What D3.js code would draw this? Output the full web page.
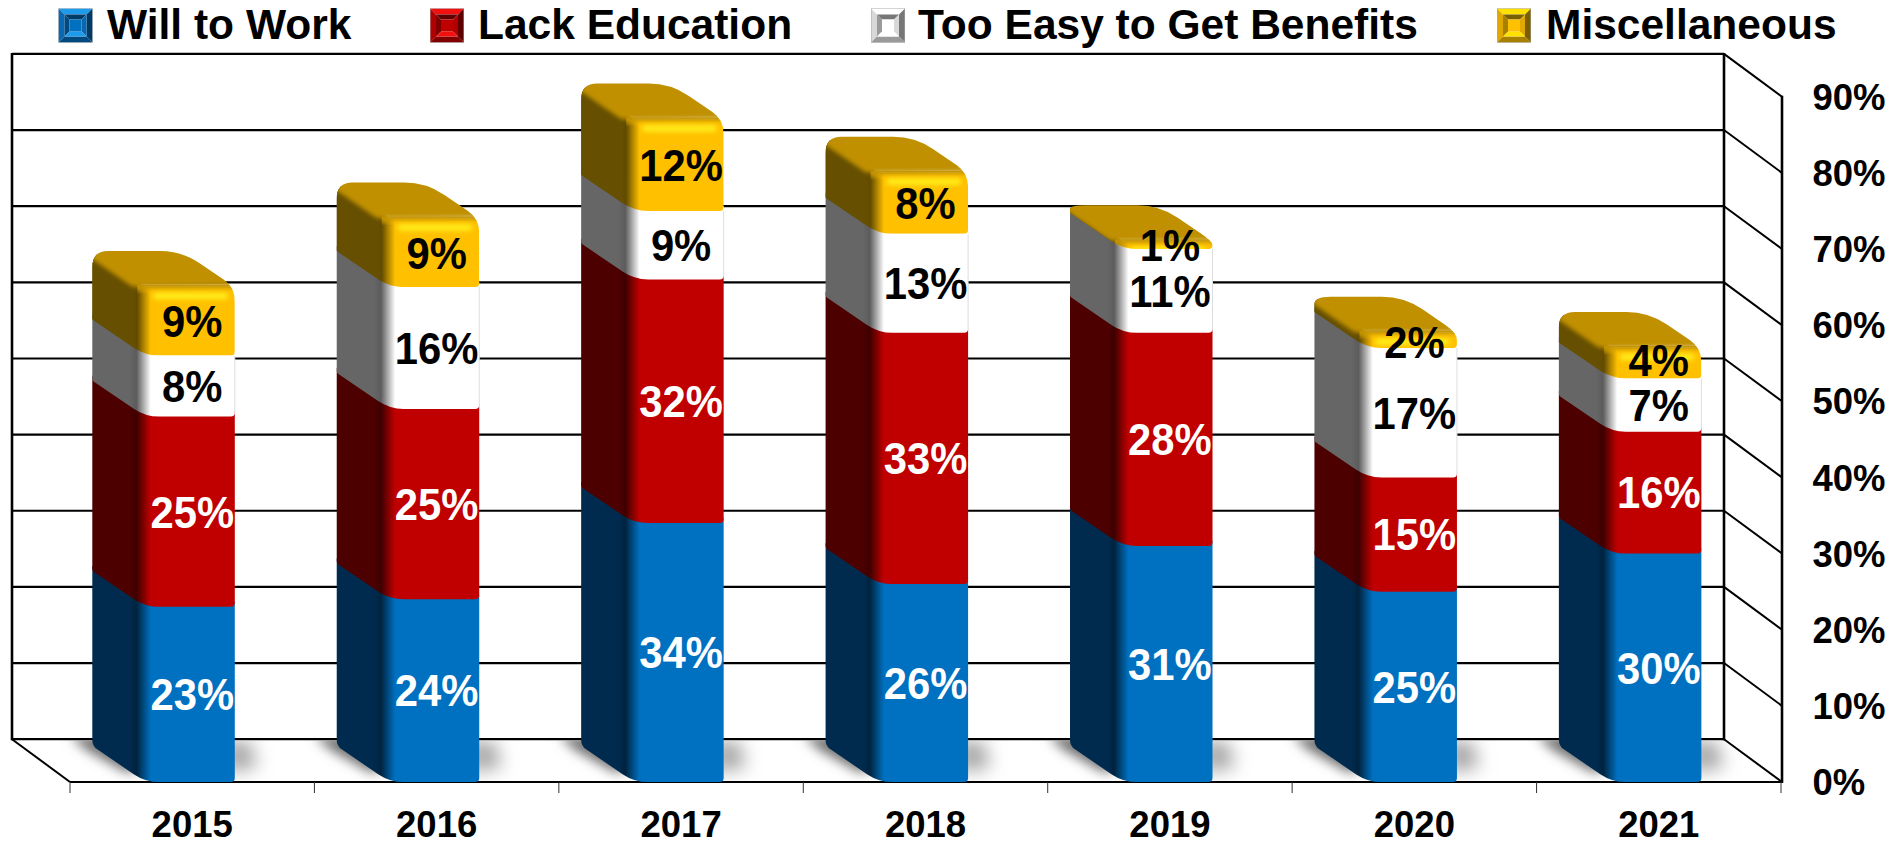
<!DOCTYPE html>
<html>
<head>
<meta charset="utf-8">
<script src="https://cdn.jsdelivr.net/npm/d3@7/dist/d3.min.js"></script>
<style>
html,body{margin:0;padding:0;background:#fff;overflow:hidden}
text{font-family:"Liberation Sans",Arial,sans-serif;font-weight:bold}
</style>
</head>
<body>
<svg id="chart" width="1903" height="844"></svg>
<script>
// ---- data ----
const years = ["2015","2016","2017","2018","2019","2020","2021"];
const seriesNames = ["Will to Work","Lack Education","Too Easy to Get Benefits","Miscellaneous"];
const willToWork = [23,24,34,26,31,25,30];
const lackEducation = [25,25,32,33,28,15,16];
const tooEasy = [8,16,9,13,11,17,7];
const miscellaneous = [9,9,12,8,1,2,4];
const yTicks = [0,10,20,30,40,50,60,70,80,90];

// ---- styles ----
const seriesValues = [willToWork,lackEducation,tooEasy,miscellaneous];
const palette = [
  {front:"#0070C0",side:"#002B4F",deep:"#00233F",text:"#fff",hi:"#1E9BEA",mid:"#0A68B0",lo:"#004A80",dk:"#003A66"},
  {front:"#C00000",side:"#4D0000",deep:"#3E0000",text:"#fff",hi:"#F01010",mid:"#B00000",lo:"#800000",dk:"#5E0000"},
  {front:"#FFFFFF",side:"#666666",deep:"#5C5C5C",text:"#000",hi:"#FFFFFF",mid:"#D8D8D8",lo:"#9A9A9A",dk:"#777777"},
  {front:"#FFC000",side:"#665000",deep:"#5C4600",text:"#000",hi:"#FFE000",mid:"#E0A800",lo:"#A88000",dk:"#7A5E00"}
];

const svg = d3.select("#chart");
const defs = svg.append("defs");

// ---- geometry ----
const depthX = 58, depthY = 42.8;      // wall depth
const barDX = 53, barDY = 36;          // bar depth
const frontLeft = 70, frontRight = 1781;
const x = d3.scaleBand().domain(years).range([frontLeft,frontRight]);
const y = d3.scaleLinear().domain([0,90]).range([782,96.7]);
const wallLeft = frontLeft - depthX, wallRight = frontRight - depthX + 1;
const barOffset = 22.3, barWidth = 142.5;

// rounded polygon, points: [x,y,r]
function roundedPoly(pts){
  const n = pts.length; let d = "";
  pts.forEach((p,i)=>{
    const a = pts[(i-1+n)%n], b = pts[(i+1)%n], r = p[2]||0;
    const la = Math.hypot(a[0]-p[0],a[1]-p[1]), lb = Math.hypot(b[0]-p[0],b[1]-p[1]);
    const ra = Math.min(r,la/2), rb = Math.min(r,lb/2);
    const sx = p[0]+(a[0]-p[0])*ra/(la||1), sy = p[1]+(a[1]-p[1])*ra/(la||1);
    const ex = p[0]+(b[0]-p[0])*rb/(lb||1), ey = p[1]+(b[1]-p[1])*rb/(lb||1);
    d += (i?"L":"M")+sx+" "+sy+"Q"+p[0]+" "+p[1]+" "+ex+" "+ey;
  });
  return d+"Z";
}

// ---- filters / gradients ----
const blurFilter = (id,s)=>defs.append("filter").attr("id",id).attr("filterUnits","userSpaceOnUse")
  .attr("x",0).attr("y",0).attr("width",1903).attr("height",844)
  .append("feGaussianBlur").attr("stdDeviation",s);
blurFilter("shadowBlurL",6);
blurFilter("shadowBlurR",9);
blurFilter("ridgeBlur",2.2);
blurFilter("glowBlur",2.4);
palette.forEach((c,i)=>{
  const g = defs.append("linearGradient").attr("id","seg"+i).attr("x1",0).attr("x2",1).attr("y1",0).attr("y2",0);
  [[0,c.side],[.26,c.side],[.31,c.deep],[.41,c.front],[1,c.front]].forEach(s=>g.append("stop").attr("offset",s[0]).attr("stop-color",s[1]));
});
const rim = defs.append("linearGradient").attr("id","rim").attr("x1",0).attr("x2",0).attr("y1",0).attr("y2",1);
[[0,"#C89800",1],[1,"#FFC000",0]].forEach(s=>rim.append("stop").attr("offset",s[0]).attr("stop-color",s[1]).attr("stop-opacity",s[2]));

// ---- walls and floor ----
const grid = svg.append("g").attr("fill","none").attr("stroke","#000");
grid.selectAll("line.h").data(yTicks).join("line").attr("class","h")
  .attr("x1",wallLeft).attr("x2",wallRight)
  .attr("y1",d=>y(d)-depthY).attr("y2",d=>y(d)-depthY).attr("stroke-width",2.2);
grid.selectAll("line.d").data(yTicks).join("line").attr("class","d")
  .attr("x1",wallRight).attr("x2",frontRight+1)
  .attr("y1",d=>y(d)-depthY).attr("y2",d=>y(d)).attr("stroke-width",2);
const line = (x1,y1,x2,y2,w)=>grid.append("line").attr("x1",x1).attr("y1",y1).attr("x2",x2).attr("y2",y2).attr("stroke-width",w);
line(wallLeft,y(90)-depthY-1,wallLeft,y(0)-depthY+1,2.6);
line(wallRight,y(90)-depthY-1,wallRight,y(0)-depthY+1,2.6);
line(frontRight+1,y(90)-1,frontRight+1,y(0)+1,2.6);
line(wallLeft,y(0)-depthY,frontLeft,y(0),2);
line(frontLeft,y(0),frontRight+2,y(0),2.2);

// floor shadows
const floorClip = defs.append("clipPath").attr("id","floorClip");
floorClip.append("polygon").attr("points",[[wallLeft,y(0)-depthY+1],[wallRight,y(0)-depthY+1],[frontRight,y(0)-1],[frontLeft,y(0)-1]].join(" "));
const shadows = svg.append("g").attr("clip-path","url(#floorClip)");
shadows.selectAll("polygon.l").data(years).join("polygon").attr("class","l")
  .attr("fill","#707070").attr("filter","url(#shadowBlurL)")
  .attr("points",d=>{
    const a = x(d)+barOffset, yb = y(0);
    return [[a-22,yb-46],[a+30,yb-46],[a+barDX-8,yb-10],[a+barDX-20,yb-10],[a-6,yb-32]].join(" ");
  });
shadows.selectAll("polygon.r").data(years).join("polygon").attr("class","r")
  .attr("fill","#A6A6A6").attr("filter","url(#shadowBlurR)")
  .attr("points",d=>{
    const b = x(d)+barOffset+barWidth, yb = y(0);
    return [[b-10,yb-42],[b+16,yb-40],[b+22,yb-14],[b-10,yb-10]].join(" ");
  });

// ---- bars ----
const bars = svg.append("g");
years.forEach((yr,k)=>{
  const x0 = x(yr)+barOffset, x1 = x0+barWidth, fl = x0+barDX;
  const g = bars.append("g");
  const total = d3.sum(seriesValues,s=>s[k]);
  const yb3 = y(total-miscellaneous[k]), yT = y(total);
  const outline = roundedPoly([
    [x0,yb3-barDY,0],[fl,yb3,0],[x1,yb3,0],[x1,yT,14],[x1-barDX,yT-barDY,22],[x0,yT-barDY,16]
  ]);
  defs.append("clipPath").attr("id","barTop"+k).append("path").attr("d",outline);
  let cum = 0;
  seriesValues.forEach((s,i)=>{
    const yb = y(cum), yt = y(cum+s[k]); cum += s[k];
    const isTop = i===seriesValues.length-1;
    const ext = isTop?0:5;
    const pts = [
      [x0,yb-barDY,i===0?6:2],[fl,yb,14],[x1,yb,4],
      [x1,yt-ext,0],[fl,yt-ext,0],[x0,yt-barDY-ext,0]
    ];
    const seg = g.append("path").attr("d",roundedPoly(pts)).attr("fill","url(#seg"+i+")");
    if(i===2) g.append("line").attr("x1",x1).attr("x2",x1).attr("y1",yb-3).attr("y2",yt)
      .attr("stroke","#DDD").attr("stroke-width",1);
    if(isTop) seg.attr("clip-path","url(#barTop"+k+")");
  });
  const top = g.append("g").attr("clip-path","url(#barTop"+k+")");
  // dark side under the ridge, reaching to where the front face starts
  top.append("polygon").attr("fill","#665000").attr("filter","url(#ridgeBlur)").attr("points",
    [[x0-4,yT-barDY-2],[fl-9,yT-2],[fl-9,yb3],[x0-4,yb3-barDY]].join(" "));
  // warm rim at the top of the front face
  top.append("rect").attr("x",fl-8).attr("y",yT-2).attr("width",x1-fl+10).attr("height",9).attr("fill","url(#rim)");
  // soft yellow glow
  top.append("rect").attr("x",fl+8).attr("y",yT+6).attr("width",x1-fl-15).attr("height",6)
    .attr("rx",3).attr("fill","#FFF21E").attr("filter","url(#glowBlur)");
  // top face
  top.append("polygon").attr("fill","#C09000").attr("filter","url(#ridgeBlur)")
    .attr("points",[[x0-6,yT-barDY+4],[x0-6,yT-barDY-6],[x1-barDX,yT-barDY-6],[x1+8,yT-6],[x1+8,yT-1],[fl-10,yT],[fl-14,yT-1]].join(" "));
});

// ---- data labels ----
const labelNudge = (k,i)=> i===3 && years[k]==="2021" ? -3 : i===3 && years[k]==="2020" ? 2 : 0;
const labels = svg.append("g").attr("text-anchor","middle");
years.forEach((yr,k)=>{
  let cum = 0;
  seriesValues.forEach((s,i)=>{
    const mid = y(cum+s[k]/2)+labelNudge(k,i); cum += s[k];
    labels.append("text").attr("transform","translate("+(x(yr)+x.bandwidth()/2)+","+mid+") scale(0.95,1)")
      .attr("dy","0.36em").attr("fill",palette[i].text).style("font-size","44px").text(s[k]+"%");
  });
});

// ---- axes ----
const xAxis = d3.axisBottom(x).tickSize(0).tickPadding(0);
const gx = svg.append("g").attr("transform","translate(0,"+y(0)+")").call(xAxis);
gx.select(".domain").remove();
gx.selectAll("text").attr("y",41.5).attr("dy","0.36em").style("font-size","36.5px").attr("fill","#000");
const edges = x.domain().map(d=>x(d)).concat([frontRight]);
gx.selectAll("line.edge").data(edges).join("line").attr("class","edge")
  .attr("x1",d=>d).attr("x2",d=>d).attr("y1",0).attr("y2",11).attr("stroke","#333").attr("stroke-width",1);

const yAxis = d3.axisRight(y).tickValues(yTicks).tickFormat(d=>d+"%").tickSize(0).tickPadding(0);
const gy = svg.append("g").attr("transform","translate(1812.5,1)").call(yAxis);
gy.select(".domain").remove();
gy.selectAll("text").attr("x",0).style("font-size","36.5px").attr("fill","#000").attr("text-anchor","start");

// ---- legend ----
const legendSwatchX = [58.5,430,871,1497];
const legendTextX = [107,478,918,1546];
const sw = 34, swTop = 8.5;
const legend = svg.append("g");
seriesNames.forEach((name,i)=>{
  const c = palette[i], a = legendSwatchX[i], t = swTop, b1 = 6, b2 = 16;
  const g = legend.append("g").attr("transform","translate("+a+","+t+")");
  const P = (arr,f)=>g.append("polygon").attr("points",arr.join(" ")).attr("fill",f);
  P([[0,0],[sw,0],[sw-b1,b1],[b1,b1]],c.hi);
  P([[0,0],[b1,b1],[b1,sw-b1],[0,sw]],c.mid);
  P([[sw,0],[sw,sw],[sw-b1,sw-b1],[sw-b1,b1]],c.dk);
  P([[0,sw],[sw,sw],[sw-b1,sw-b1],[b1,sw-b1]],c.lo);
  P([[b1,b1],[sw-b1,b1],[sw-b2+5,b2-5],[b2-5,b2-5]],c.dk);
  P([[b1,b1],[b2-5,b2-5],[b2-5,sw-b2+5],[b1,sw-b1]],c.lo);
  P([[sw-b1,b1],[sw-b1,sw-b1],[sw-b2+5,sw-b2+5],[sw-b2+5,b2-5]],c.mid);
  P([[b1,sw-b1],[sw-b1,sw-b1],[sw-b2+5,sw-b2+5],[b2-5,sw-b2+5]],c.hi);
  P([[b2-5,b2-5],[sw-b2+5,b2-5],[sw-b2+5,sw-b2+5],[b2-5,sw-b2+5]],c.front);
  g.append("rect").attr("x",.25).attr("y",.25).attr("width",sw-.5).attr("height",sw-.5).attr("fill","none").attr("stroke","#aaa").attr("stroke-width",.5);
  legend.append("text").attr("x",legendTextX[i]).attr("y",39).style("font-size","42.5px").attr("fill","#000").text(name);
});
</script>
</body>
</html>
